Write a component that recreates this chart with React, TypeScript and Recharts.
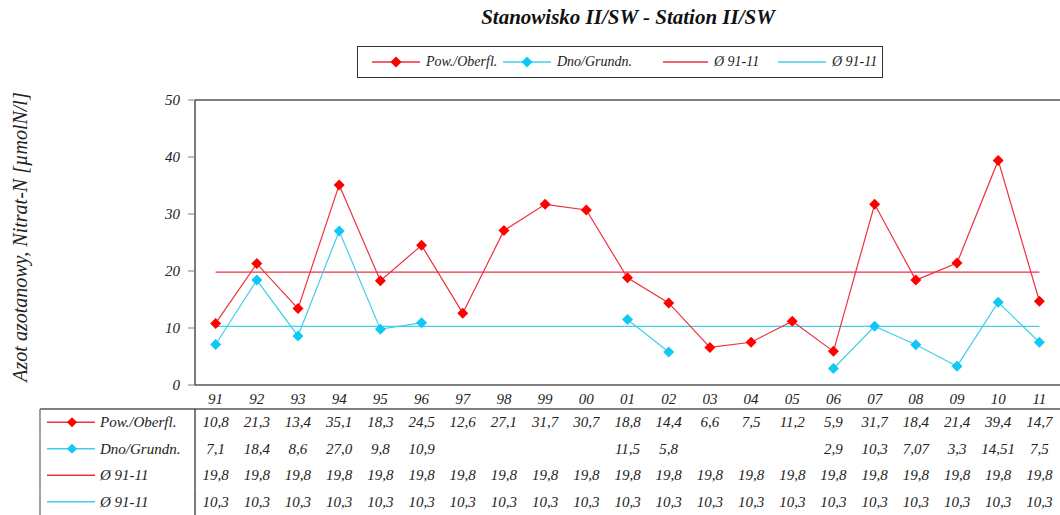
import React from 'react';
import { ComposedChart, Line, XAxis, YAxis, ReferenceLine } from 'recharts';

const years = ['91','92','93','94','95','96','97','98','99','00','01','02','03','04','05','06','07','08','09','10','11'];
const powValues = [10.8,21.3,13.4,35.1,18.3,24.5,12.6,27.1,31.7,30.7,18.8,14.4,6.6,7.5,11.2,5.9,31.7,18.4,21.4,39.4,14.7];
const dnoValues: (number | null)[] = [7.1,18.4,8.6,27.0,9.8,10.9,null,null,null,null,11.5,5.8,null,null,null,2.9,10.3,7.07,3.3,14.51,7.5];
const avgPowValues = [19.8,19.8,19.8,19.8,19.8,19.8,19.8,19.8,19.8,19.8,19.8,19.8,19.8,19.8,19.8,19.8,19.8,19.8,19.8,19.8,19.8];
const avgDnoValues = [10.3,10.3,10.3,10.3,10.3,10.3,10.3,10.3,10.3,10.3,10.3,10.3,10.3,10.3,10.3,10.3,10.3,10.3,10.3,10.3,10.3];
const powLabels = ['10,8','21,3','13,4','35,1','18,3','24,5','12,6','27,1','31,7','30,7','18,8','14,4','6,6','7,5','11,2','5,9','31,7','18,4','21,4','39,4','14,7'];
const dnoLabels = ['7,1','18,4','8,6','27,0','9,8','10,9','','','','','11,5','5,8','','','','2,9','10,3','7,07','3,3','14,51','7,5'];
const avgPowLabels = avgPowValues.map(v => String(v).replace('.', ','));
const avgDnoLabels = avgDnoValues.map(v => String(v).replace('.', ','));
const yTicks = [0, 10, 20, 30, 40, 50];

const TITLE = 'Stanowisko II/SW - Station II/SW';
const Y_LABEL = 'Azot azotanowy, Nitrat-N [µmolN/l]';
const NAME_POW = 'Pow./Oberfl.';
const NAME_DNO = 'Dno/Grundn.';
const NAME_AVG = 'Ø 91-11';

const FONT = "'Liberation Serif', 'DejaVu Serif', serif";
const RED = '#FF0000';
const RED_LINE = '#EE3040';
const CYAN = '#10C8F4';
const CYAN_LINE = '#40D0E8';
const TXT = '#222';
const PAD = { left: 20.6, right: 20.6 };

const rows = years.map((y, i) => ({
  year: y,
  pow: powValues[i],
  dno: dnoValues[i],
  avgPow: avgPowValues[i],
  avgDno: avgDnoValues[i],
}));

const tableRows = [
  { id: 't0', name: NAME_POW, labels: powLabels, color: RED_LINE, marker: RED },
  { id: 't1', name: NAME_DNO, labels: dnoLabels, color: CYAN_LINE, marker: CYAN },
  { id: 't2', name: NAME_AVG, labels: avgPowLabels, color: RED_LINE, marker: null },
  { id: 't3', name: NAME_AVG, labels: avgDnoLabels, color: CYAN_LINE, marker: null },
];

const legendItems = [
  { name: NAME_POW, color: RED_LINE, marker: RED, x: 14, w: 48 },
  { name: NAME_DNO, color: CYAN_LINE, marker: CYAN, x: 145, w: 48 },
  { name: NAME_AVG, color: RED_LINE, marker: null, x: 305, w: 45 },
  { name: NAME_AVG, color: CYAN_LINE, marker: null, x: 420, w: 48 },
];

const Diamond = (props: any) => {
  const { cx, cy, fill } = props;
  const r = 5.5;
  if (cx == null || cy == null || props.value == null || (Array.isArray(props.value) && props.value[1] == null)) {
    return <g key={props.key} />;
  }
  return (
    <polygon
      key={props.key}
      points={`${cx},${cy - r} ${cx + r},${cy} ${cx},${cy + r} ${cx - r},${cy}`}
      fill={fill}
      stroke="none"
    />
  );
};

const LegendSymbol = ({ color, marker, w }: { color: string; marker: string | null; w: number }) => (
  <svg width={w} height={12} style={{ display: 'block' }}>
    <line x1={0} y1={6} x2={w} y2={6} stroke={color} strokeWidth={1.5} />
    {marker && <polygon points={`${w / 2},0.5 ${w / 2 + 5.5},6 ${w / 2},11.5 ${w / 2 - 5.5},6`} fill={marker} />}
  </svg>
);

const makeRowLabel = (row: typeof tableRows[number], first: boolean) => (props: any) => {
  const vb = props.viewBox || {};
  const top = vb.y ?? 0;
  const h = vb.height ?? 26.5;
  const axisX = vb.x ?? 195;
  const right = axisX + (vb.width ?? 865);
  const cy = top + h / 2;
  const left = axisX - 155;
  return (
    <g>
      {first && <line x1={left} y1={top} x2={right} y2={top} stroke="#808080" strokeWidth={2} />}
      <line x1={left} y1={top} x2={left} y2={top + h} stroke="#808080" strokeWidth={1.5} />
      <line x1={axisX} y1={top} x2={axisX} y2={top + h} stroke="#222" strokeWidth={1.2} />
      <line x1={left + 7} y1={cy} x2={left + 55} y2={cy} stroke={row.color} strokeWidth={1.3} />
      {row.marker && (
        <polygon points={`${left + 32},${cy - 5} ${left + 37},${cy} ${left + 32},${cy + 5} ${left + 27},${cy}`} fill={row.marker} />
      )}
      <text x={left + 60} y={cy} dominantBaseline="central" fontFamily={FONT} fontStyle="italic" fontSize={15} fill={TXT}>
        {row.name}
      </text>
    </g>
  );
};

const makeRowTick = (row: typeof tableRows[number]) => (props: any) => {
  const { x, y, payload } = props;
  const idx = payload?.index ?? years.indexOf(payload?.value);
  return (
    <text x={x} y={y + 13} textAnchor="middle" dominantBaseline="central" fontFamily={FONT} fontStyle="italic" fontSize={15} fill={TXT}>
      {row.labels[idx]}
    </text>
  );
};

const YearTick = (props: any) => {
  const { x, y, payload } = props;
  return (
    <text x={x} y={y + 14} textAnchor="middle" dominantBaseline="central" fontFamily={FONT} fontStyle="italic" fontSize={15} fill={TXT}>
      {payload.value}
    </text>
  );
};

const YLabel = () => (
  <text
    x={20}
    y={237}
    transform="rotate(-90, 20, 237)"
    textAnchor="middle"
    dominantBaseline="central"
    fontFamily={FONT}
    fontStyle="italic"
    fontSize={20}
    fill={TXT}
  >
    {Y_LABEL}
  </text>
);

export default function App() {
  return (
    <div style={{ position: 'absolute', left: 0, top: 0, width: 1060, height: 515, background: '#fff', fontFamily: FONT }}>
      <div
        style={{
          position: 'absolute', left: 0, top: 3, width: 1256, textAlign: 'center', whiteSpace: 'nowrap',
          fontSize: 21, fontWeight: 'bold', fontStyle: 'italic', color: '#111', lineHeight: '28px',
        }}
      >
        {TITLE}
      </div>
      <div
        style={{
          position: 'absolute', left: 357, top: 46, width: 526, height: 32, boxSizing: 'border-box',
          border: '1px solid #333', background: '#fff', whiteSpace: 'nowrap',
          fontSize: 14, fontStyle: 'italic', color: TXT, zIndex: 2,
        }}
      >
        {legendItems.map((it, i) => (
          <div key={i} style={{ position: 'absolute', left: it.x, top: 0, height: 30, display: 'flex', alignItems: 'center' }}>
            <LegendSymbol color={it.color} marker={it.marker} w={it.w} />
            <span style={{ marginLeft: 6 }}>{it.name}</span>
          </div>
        ))}
      </div>
      <ComposedChart
        width={1060}
        height={515}
        data={rows}
        margin={{ top: 100, right: 0, left: 0, bottom: 0 }}
        style={{ position: 'absolute', left: 0, top: 0 }}
      >
        <XAxis
          xAxisId="main"
          dataKey="year"
          height={24}
          padding={PAD}
          axisLine={{ stroke: '#808080', strokeWidth: 2 }}
          tickLine={false}
          tickSize={0}
          tickMargin={0}
          tick={<YearTick />}
          interval={0}
        />
        {tableRows.map((row, i) => (
          <XAxis
            key={row.id}
            xAxisId={row.id}
            dataKey="year"
            height={26.5}
            padding={PAD}
            axisLine={false}
            tickLine={false}
            tickSize={0}
            tickMargin={0}
            interval={0}
            tick={makeRowTick(row)}
            label={{ content: makeRowLabel(row, i === 0) }}
          />
        ))}
        <YAxis
          width={195}
          domain={[0, 50]}
          ticks={yTicks}
          interval={0}
          axisLine={{ stroke: '#222', strokeWidth: 1.2 }}
          tickLine={{ stroke: '#808080' }}
          tickSize={7}
          tickMargin={8}
          tick={{ fontFamily: FONT, fontStyle: 'italic', fontSize: 15, fill: TXT }}
          label={{ content: <YLabel /> }}
        />
        <ReferenceLine xAxisId="main" y={50} stroke="#808080" strokeWidth={2} ifOverflow="visible" />
        <Line
          xAxisId="main"
          dataKey="avgPow"
          stroke={RED_LINE}
          strokeWidth={1.2}
          dot={false}
          isAnimationActive={false}
        />
        <Line
          xAxisId="main"
          dataKey="avgDno"
          stroke={CYAN_LINE}
          strokeWidth={1.2}
          dot={false}
          isAnimationActive={false}
        />
        <Line
          xAxisId="main"
          dataKey="dno"
          stroke={CYAN_LINE}
          strokeWidth={1.2}
          connectNulls={false}
          dot={(p: any) => <Diamond {...p} fill={CYAN} />}
          activeDot={false}
          isAnimationActive={false}
        />
        <Line
          xAxisId="main"
          dataKey="pow"
          stroke={RED_LINE}
          strokeWidth={1.2}
          dot={(p: any) => <Diamond {...p} fill={RED} />}
          activeDot={false}
          isAnimationActive={false}
        />
      </ComposedChart>
    </div>
  );
}
